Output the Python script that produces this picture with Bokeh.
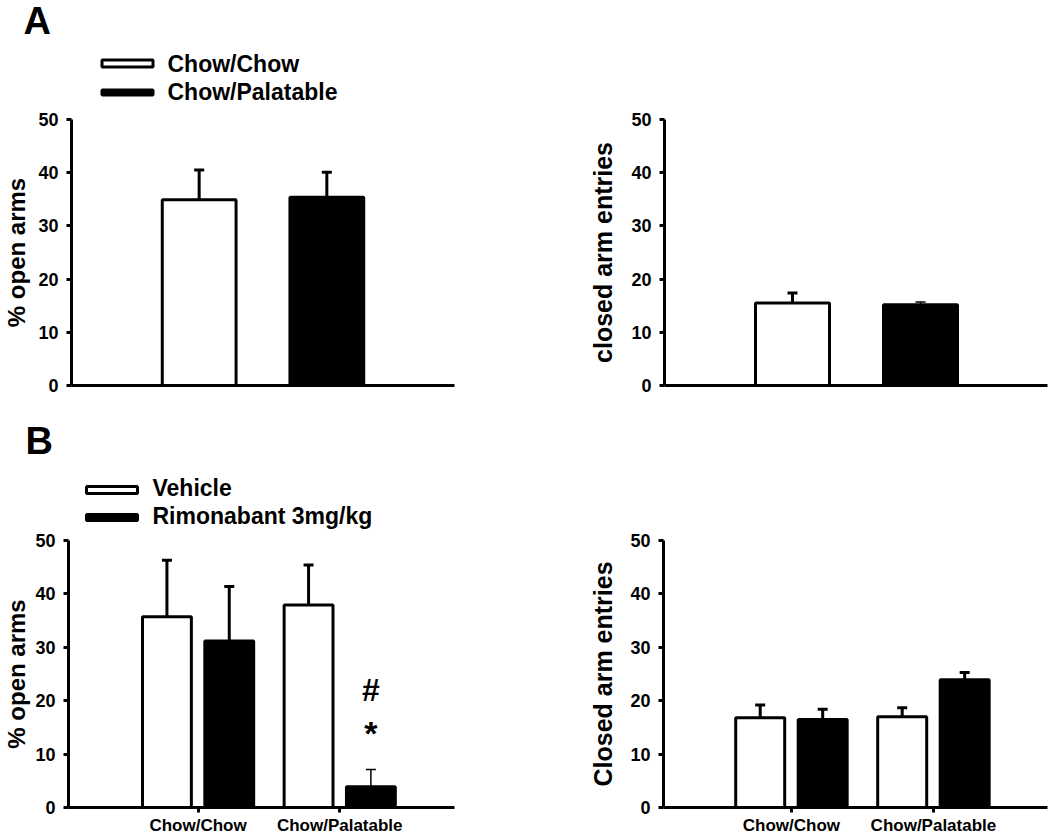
from bokeh.plotting import figure
from bokeh.layouts import column, row
from bokeh.models import Range1d, FixedTicker
from bokeh.core.properties import value
from bokeh.embed import file_html
from bokeh.resources import INLINE

FONT = "Liberation Sans"

# ---------------- data ----------------
diet_groups = ["Chow/Chow", "Chow/Palatable"]
a_open_mean = [34.9, 35.4]
a_open_sem = [5.6, 4.7]
a_closed_mean = [15.5, 15.2]
a_closed_sem = [1.9, 0.5]

b_treatments = ["Vehicle", "Rimonabant 3mg/kg"]
b_open_vehicle = [35.7, 37.9]
b_open_vehicle_sem = [10.6, 7.5]
b_open_rimo = [31.2, 3.9]
b_open_rimo_sem = [10.2, 3.2]
b_closed_vehicle = [16.8, 17.0]
b_closed_vehicle_sem = [2.4, 1.7]
b_closed_rimo = [16.5, 23.9]
b_closed_rimo_sem = [1.9, 1.4]

y_ticks = [0, 10, 20, 30, 40, 50]
sig_marks = ["#", "*"]
sig_y = [22.0, 14.0]

BASE_SHIFT = 0.34  # empirical: alphabetic baseline lift, in em


# ---------------- helpers ----------------
def make_header(W, H):
    p = figure(width=W, height=H, min_border=0,
               x_range=Range1d(0, W), y_range=Range1d(H, 0),
               x_axis_location=None, y_axis_location=None,
               output_backend="svg", toolbar_location=None)
    p.outline_line_color = None
    p.xgrid.visible = False
    p.ygrid.visible = False
    p.background_fill_color = "white"
    p.border_fill_color = "white"
    return p


def header_text(p, x, baseline, txt, size):
    p.text(x=[x], y=[baseline - BASE_SHIFT * size], text=[txt], text_font=value(FONT),
           text_font_style="bold", text_font_size=f"{size}px",
           text_baseline="alphabetic", text_align="left", text_color="black")


def header_legend(p, labels, rect_cx, rect_cys, rect_hs, text_x, text_ys):
    fills = ["white", "black"]
    for lab, cy, h, ty, fill in zip(labels, rect_cys, rect_hs, text_ys, fills):
        p.rect(x=[rect_cx], y=[cy], width=51, height=h,
               width_units="screen", height_units="screen",
               fill_color=fill, line_color="black", line_width=3)
        header_text(p, text_x, ty, lab, 23)


def make_fig(spec, ylabel, ylabel_size, std):
    W, H, L, R, T, B = spec["W"], spec["H"], spec["L"], spec["R"], spec["T"], spec["B"]
    fw = W - L - R
    p = figure(width=W, height=H, min_border=0,
               min_border_left=L, min_border_right=R,
               min_border_top=T, min_border_bottom=B,
               x_range=Range1d(spec["x0"], spec["x0"] + fw / spec["ppx"]),
               y_range=Range1d(0, 50),
               output_backend="svg", toolbar_location=None)
    p.outline_line_color = None
    p.xgrid.visible = False
    p.ygrid.visible = False
    p.background_fill_color = "white"
    p.border_fill_color = "white"

    ya = p.yaxis[0]
    ya.ticker = FixedTicker(ticks=y_ticks)
    ya.axis_line_width = 3
    ya.axis_line_color = "black"
    ya.major_tick_line_width = 3
    ya.major_tick_out = 5
    ya.major_tick_in = 0
    ya.minor_tick_out = 0
    ya.minor_tick_in = 0
    ya.major_label_standoff = 8
    ya.major_label_text_font = FONT
    ya.major_label_text_font_style = "bold"
    ya.major_label_text_font_size = "18px"
    ya.major_label_text_color = "black"
    ya.axis_label = ylabel
    ya.axis_label_text_font = FONT
    ya.axis_label_text_font_style = "bold"
    ya.axis_label_text_font_size = ylabel_size
    ya.axis_label_text_color = "black"
    ya.axis_label_standoff = std

    xa = p.xaxis[0]
    xa.axis_line_width = 3
    xa.axis_line_color = "black"
    xa.minor_tick_out = 0
    xa.minor_tick_in = 0
    return p


def draw_bars(p, xs, means, sems, fill, width, err_w):
    p.vbar(x=xs, top=means, width=width, bottom=0,
           fill_color=fill, line_color="black", line_width=3)
    tops = [m + s for m, s in zip(means, sems)]
    p.segment(x0=xs, y0=means, x1=xs, y1=tops, line_color="black", line_width=err_w)
    p.scatter(x=xs, y=tops, marker="dash", size=10, line_color="black", line_width=err_w)


# ---------------- layout specs (pixels) ----------------
specA1 = dict(W=560, H=294, L=70, R=106, T=12, B=14, x0=-1.0, ppx=128)
specA2 = dict(W=490, H=294, L=104, R=3, T=14, B=13, x0=-1.0, ppx=128)
specB1 = dict(W=560, H=307, L=67, R=106, T=8, B=30, x0=-0.915, ppx=142)
specB2 = dict(W=490, H=307, L=103, R=3, T=10, B=29, x0=-0.901, ppx=142)

# ---------------- Panel A ----------------
hA = make_header(1050, 105)
header_text(hA, 23, 33, "A", 38)
header_legend(hA, diet_groups, 127, [63, 92], [7, 5], 167, [71.7, 99.3])

a_x = list(range(len(diet_groups)))
a_fill = ["white", "black"]
a_width = 0.578

pA1 = make_fig(specA1, "% open arms", "24px", 5)
pA1.xaxis[0].ticker = FixedTicker(ticks=[])
pA1.xaxis[0].major_tick_out = 0
for i in a_x:
    draw_bars(pA1, [a_x[i]], [a_open_mean[i]], [a_open_sem[i]], a_fill[i], a_width, 3)

pA2 = make_fig(specA2, "closed arm entries", "25px", 11)
pA2.xaxis[0].ticker = FixedTicker(ticks=[])
pA2.xaxis[0].major_tick_out = 0
a_closed_errw = [3, 1.5]
for i in a_x:
    draw_bars(pA2, [a_x[i]], [a_closed_mean[i]], [a_closed_sem[i]], a_fill[i], a_width,
              a_closed_errw[i])

# ---------------- Panel B ----------------
hB = make_header(1050, 131)
header_text(hB, 25, 453 - 399, "B", 38)
header_legend(hB, b_treatments, 111.5, [489.5 - 399, 517 - 399], [7, 6],
              152, [495 - 399, 523.3 - 399])

g = list(range(len(diet_groups)))
off = 0.22
b_width = 0.345
xv = [i - off for i in g]
xr = [i + off for i in g]


def style_bx(p):
    xa = p.xaxis[0]
    xa.ticker = FixedTicker(ticks=g)
    xa.major_label_overrides = {i: name for i, name in zip(g, diet_groups)}
    xa.major_tick_out = 5
    xa.major_tick_in = 0
    xa.major_tick_line_width = 3
    xa.major_label_standoff = 3
    xa.major_label_text_font = FONT
    xa.major_label_text_font_style = "bold"
    xa.major_label_text_font_size = "17px"
    xa.major_label_text_color = "black"


pB1 = make_fig(specB1, "% open arms", "24px", 2)
style_bx(pB1)
draw_bars(pB1, xv, b_open_vehicle, b_open_vehicle_sem, "white", b_width, 3)
b_open_rimo_errw = [3, 1.5]
for i in g:
    draw_bars(pB1, [xr[i]], [b_open_rimo[i]], [b_open_rimo_sem[i]], "black", b_width,
              b_open_rimo_errw[i])
pB1.text(x=[xr[1]], y=[sig_y[0]], text=[sig_marks[0]], text_font=value(FONT),
         text_font_style="bold", text_font_size="32px", text_align="center",
         text_baseline="alphabetic", text_color="black")
pB1.text(x=[xr[1]], y=[sig_y[1]], text=[sig_marks[1]], text_font=value(FONT),
         text_font_style="bold", text_font_size="34px", text_align="center",
         text_baseline="alphabetic", text_color="black")

pB2 = make_fig(specB2, "Closed arm entries", "25px", 10)
style_bx(pB2)
draw_bars(pB2, xv, b_closed_vehicle, b_closed_vehicle_sem, "white", b_width, 3)
draw_bars(pB2, xr, b_closed_rimo, b_closed_rimo_sem, "black", b_width, 3)

layout = column(hA, row(pA1, pA2), hB, row(pB1, pB2))
open("out.html", "w").write(file_html(layout, INLINE))
